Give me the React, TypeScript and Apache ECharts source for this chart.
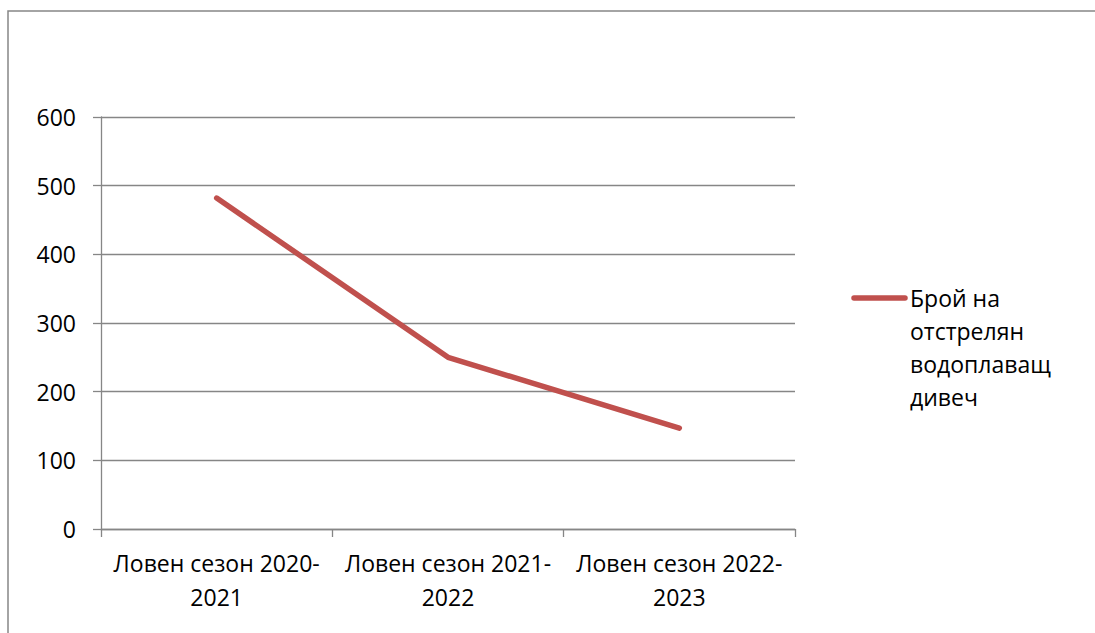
import React, { useEffect, useRef } from "react";
import * as echarts from "echarts";

const categories = ["Ловен сезон 2020-\n2021", "Ловен сезон 2021-\n2022", "Ловен сезон 2022-\n2023"];
const values = [482, 250, 147];
const seriesName = "Брой на\nотстрелян\nводоплаващ\nдивеч";

const FONT = "'Open Sans', 'Noto Sans', sans-serif";
const AXIS = "#868686";
const RED = "#C0504D";
const FS = 23;

export default function App() {
  const ref = useRef<HTMLDivElement>(null);
  useEffect(() => {
    if (!ref.current) return;
    const chart = echarts.init(ref.current, undefined, { renderer: "svg" });
    chart.setOption({
      animation: false,
      backgroundColor: "#ffffff",
      textStyle: { fontFamily: FONT },
      grid: { left: 101, top: 117, right: 300, bottom: 104, containLabel: false },
      xAxis: {
        type: "category",
        data: categories,
        boundaryGap: true,
        axisLine: { show: true, lineStyle: { color: AXIS, width: 1.3 } },
        axisTick: { show: true, length: 8, lineStyle: { color: AXIS, width: 1.3 } },
        axisLabel: { color: "#000", fontSize: FS, lineHeight: 34, margin: 17, fontFamily: FONT, interval: 0 },
      },
      yAxis: {
        type: "value",
        min: 0,
        max: 600,
        interval: 100,
        axisLine: { show: true, lineStyle: { color: AXIS, width: 1.3 } },
        axisTick: { show: true, length: 8, lineStyle: { color: AXIS, width: 1.3 } },
        splitLine: { show: true, lineStyle: { color: AXIS, width: 1.3 } },
        axisLabel: { color: "#000", fontSize: FS, margin: 25, fontFamily: FONT },
      },
      legend: { show: false },
      series: [
        {
          type: "line",
          name: seriesName,
          data: values,
          symbol: "none",
          lineStyle: { color: RED, width: 5.5, cap: "round", join: "round" },
          itemStyle: { color: RED },
        },
      ],
      graphic: [
        {
          type: "rect",
          shape: { x: 8, y: 11, width: 1200, height: 800 },
          style: { fill: "none", stroke: AXIS, lineWidth: 1.5 },
          silent: true,
        },
        {
          type: "line",
          shape: { x1: 854, y1: 298, x2: 905, y2: 298 },
          style: { stroke: RED, lineWidth: 5.5, lineCap: "round" },
        },
        {
          type: "text",
          x: 910,
          y: 281,
          style: {
            text: seriesName,
            fill: "#000",
            font: `${FS}px ${FONT}`,
            lineHeight: 33,
            textVerticalAlign: "top",
          },
        },
      ],
    });
    return () => chart.dispose();
  }, []);
  return (
    <div
      ref={ref}
      style={{ position: "fixed", left: 0, top: 0, width: 1095, height: 633 }}
    />
  );
}
